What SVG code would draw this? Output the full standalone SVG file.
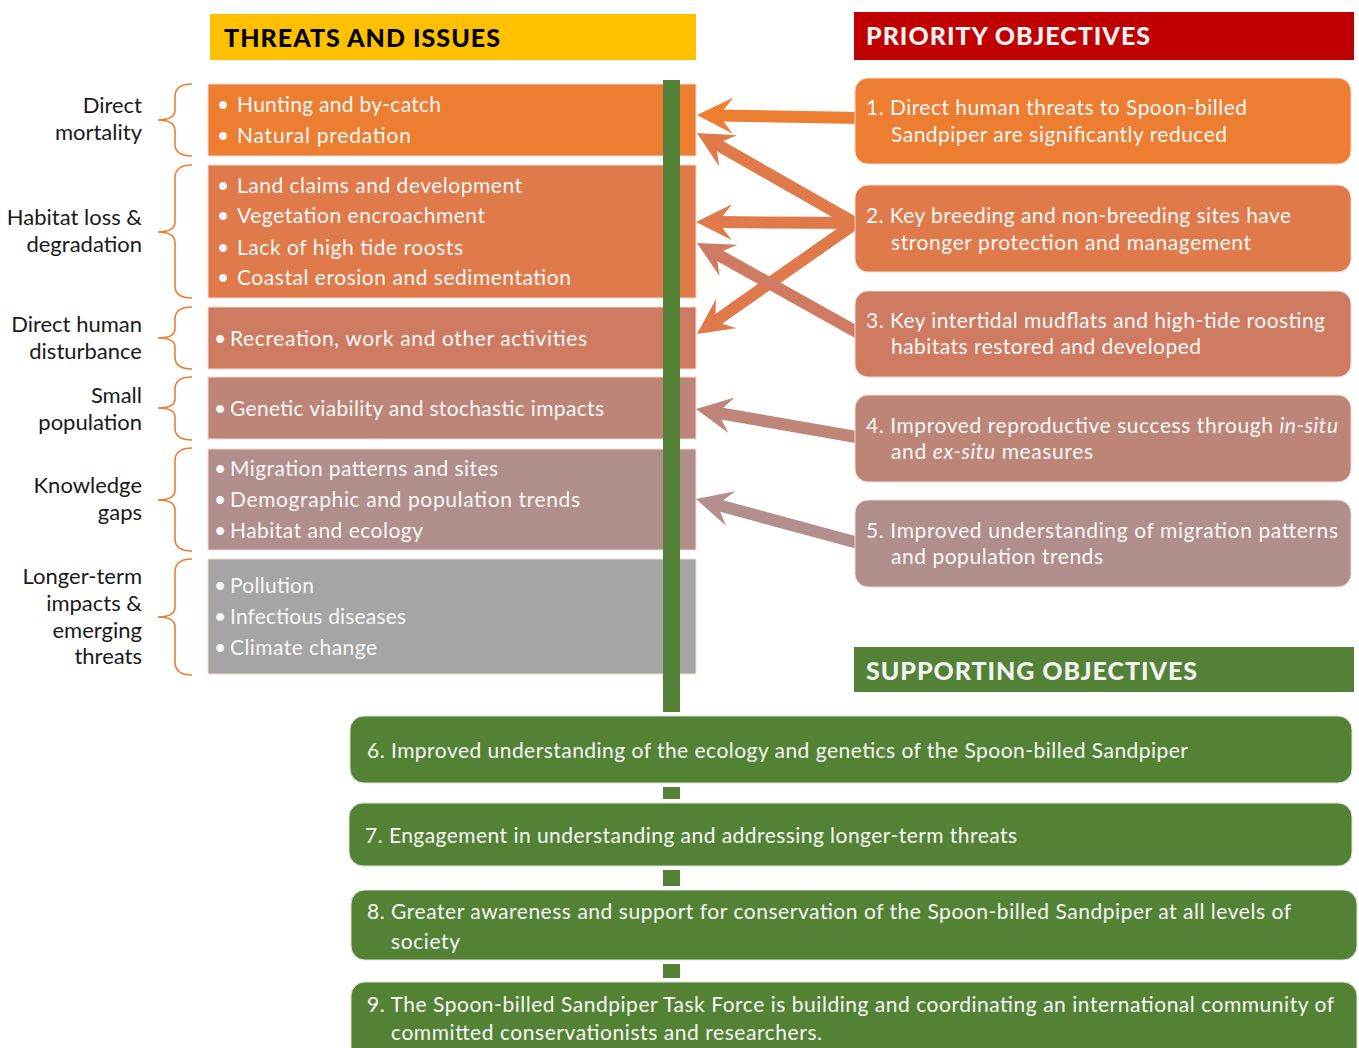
<svg xmlns="http://www.w3.org/2000/svg" width="1359" height="1048" viewBox="0 0 1359 1048">
  <style>
    text { font-family: Lato, "Open Sans", "Liberation Sans", sans-serif; }
    .hdr { font-size: 25px; font-weight: 900; }
    .lbl { font-size: 22px; fill: #1a1a1a; text-anchor: end; }
    .itm { font-size: 21px; fill: #f7f7f7; }
    .obj { font-size: 21px; fill: #f7f7f7; }
    .brace { fill: none; stroke: #ED7D31; stroke-width: 1.6; }
    .tbox { stroke: #f6d9cc; stroke-width: 1; }
    .pbox { stroke: #f6d9cc; stroke-width: 1; }
    .sbox { fill: #548235; stroke: #d9e3d0; stroke-width: 1; }
    .conn { stroke-width: 12; fill: none; }
    .spine { fill: #538135; }
  </style>
  <defs>
    <marker id="head1" viewBox="0 0 36 36" markerWidth="36" markerHeight="36" refX="14" refY="18" orient="auto" markerUnits="userSpaceOnUse">
      <path d="M36,18 L0,0 L14,18 L0,36 Z" fill="#ED7D31"/>
    </marker>
    <marker id="head2" viewBox="0 0 36 36" markerWidth="36" markerHeight="36" refX="14" refY="18" orient="auto" markerUnits="userSpaceOnUse">
      <path d="M36,18 L0,0 L14,18 L0,36 Z" fill="#E07A4B"/>
    </marker>
    <marker id="head3" viewBox="0 0 36 36" markerWidth="36" markerHeight="36" refX="14" refY="18" orient="auto" markerUnits="userSpaceOnUse">
      <path d="M36,18 L0,0 L14,18 L0,36 Z" fill="#CE7B62"/>
    </marker>
    <marker id="head4" viewBox="0 0 36 36" markerWidth="36" markerHeight="36" refX="14" refY="18" orient="auto" markerUnits="userSpaceOnUse">
      <path d="M36,18 L0,0 L14,18 L0,36 Z" fill="#BF8578"/>
    </marker>
    <marker id="head5" viewBox="0 0 36 36" markerWidth="36" markerHeight="36" refX="14" refY="18" orient="auto" markerUnits="userSpaceOnUse">
      <path d="M36,18 L0,0 L14,18 L0,36 Z" fill="#B28F8C"/>
    </marker>
  </defs>

  <rect width="1359" height="1048" fill="#ffffff"/>

  <!-- Column headers -->
  <g id="hdr-threats">
    <rect x="210" y="14" width="486" height="46" fill="#FFC000"/>
    <text class="hdr" x="224" y="47" fill="#000000" textLength="276">THREATS AND ISSUES</text>
  </g>
  <g id="hdr-priority">
    <rect x="854" y="12" width="500" height="48" fill="#C00000"/>
    <text class="hdr" x="866" y="45" fill="#f2f2f2" textLength="284">PRIORITY OBJECTIVES</text>
  </g>
  <g id="hdr-supporting">
    <rect x="854" y="647" width="500" height="45" fill="#538135"/>
    <text class="hdr" x="866" y="680" fill="#f2f2f2" textLength="331">SUPPORTING OBJECTIVES</text>
  </g>

  <!-- Threat categories with braces -->
  <g id="cat-mortality">
    <path class="brace" d="M192,84 Q175,84 175,97 L175,110 Q175,120 158,120 Q175,120 175,131 L175,144 Q175,156 192,156"/>
    <text class="lbl" x="142" y="113">Direct</text>
    <text class="lbl" x="142" y="140">mortality</text>
  </g>
  <g id="cat-habitat">
    <path class="brace" d="M192,165 Q175,165 175,178 L175,222 Q175,232 158,232 Q175,232 175,243 L175,286 Q175,298 192,298"/>
    <text class="lbl" x="142" y="225">Habitat loss &amp;</text>
    <text class="lbl" x="142" y="252">degradation</text>
  </g>
  <g id="cat-disturbance">
    <path class="brace" d="M192,307 Q175,307 175,319 L175,329 Q175,338 158,338 Q175,338 175,347 L175,357 Q175,369 192,369"/>
    <text class="lbl" x="142" y="332">Direct human</text>
    <text class="lbl" x="142" y="359">disturbance</text>
  </g>
  <g id="cat-population">
    <path class="brace" d="M192,377 Q175,377 175,389 L175,399 Q175,408 158,408 Q175,408 175,417 L175,428 Q175,440 192,440"/>
    <text class="lbl" x="142" y="403">Small</text>
    <text class="lbl" x="142" y="430">population</text>
  </g>
  <g id="cat-knowledge">
    <path class="brace" d="M192,448 Q175,448 175,461 L175,490 Q175,500 158,500 Q175,500 175,510 L175,539 Q175,551 192,551"/>
    <text class="lbl" x="142" y="493">Knowledge</text>
    <text class="lbl" x="142" y="520">gaps</text>
  </g>
  <g id="cat-longer">
    <path class="brace" d="M192,559 Q175,559 175,572 L175,607 Q175,617 158,617 Q175,617 175,627 L175,662 Q175,675 192,675"/>
    <text class="lbl" x="142" y="584">Longer-term</text>
    <text class="lbl" x="142" y="611">impacts &amp;</text>
    <text class="lbl" x="142" y="638">emerging</text>
    <text class="lbl" x="142" y="664">threats</text>
  </g>

  <!-- Threat boxes -->
  <g id="threat-mortality">
    <rect class="tbox" x="208" y="84" width="488" height="72" fill="#ED7D31"/>
    <text class="itm" x="217" y="112">•</text>
    <text class="itm" x="237" y="112" textLength="204">Hunting and by-catch</text>
    <text class="itm" x="217" y="143">•</text>
    <text class="itm" x="237" y="143" textLength="174">Natural predation</text>
  </g>
  <g id="threat-habitat">
    <rect class="tbox" x="208" y="165" width="488" height="133" fill="#E07A4B"/>
    <text class="itm" x="217" y="193">•</text>
    <text class="itm" x="237" y="193" textLength="285">Land claims and development</text>
    <text class="itm" x="217" y="223">•</text>
    <text class="itm" x="237" y="223" textLength="248">Vegetation encroachment</text>
    <text class="itm" x="217" y="255">•</text>
    <text class="itm" x="237" y="255" textLength="226">Lack of high tide roosts</text>
    <text class="itm" x="217" y="285">•</text>
    <text class="itm" x="237" y="285" textLength="334">Coastal erosion and sedimentation</text>
  </g>
  <g id="threat-disturbance">
    <rect class="tbox" x="208" y="307" width="488" height="62" fill="#CE7B62"/>
    <text class="itm" x="214" y="346">•</text>
    <text class="itm" x="230" y="346" textLength="357">Recreation, work and other activities</text>
  </g>
  <g id="threat-population">
    <rect class="tbox" x="208" y="377" width="488" height="62" fill="#BC8577"/>
    <text class="itm" x="214" y="416">•</text>
    <text class="itm" x="230" y="416" textLength="374">Genetic viability and stochastic impacts</text>
  </g>
  <g id="threat-knowledge">
    <rect class="tbox" x="208" y="449" width="488" height="101" fill="#AF8E8B"/>
    <text class="itm" x="214" y="476">•</text>
    <text class="itm" x="230" y="476" textLength="268">Migration patterns and sites</text>
    <text class="itm" x="214" y="507">•</text>
    <text class="itm" x="230" y="507" textLength="350">Demographic and population trends</text>
    <text class="itm" x="214" y="538">•</text>
    <text class="itm" x="230" y="538" textLength="193">Habitat and ecology</text>
  </g>
  <g id="threat-longer">
    <rect class="tbox" x="208" y="559" width="488" height="115" fill="#A5A5A5"/>
    <text class="itm" x="214" y="593">•</text>
    <text class="itm" x="230" y="593" textLength="84">Pollution</text>
    <text class="itm" x="214" y="624">•</text>
    <text class="itm" x="230" y="624" textLength="176">Infectious diseases</text>
    <text class="itm" x="214" y="655">•</text>
    <text class="itm" x="230" y="655" textLength="147">Climate change</text>
  </g>

  <!-- Spine linking threats to supporting objectives -->
  <g id="spine">
    <rect class="spine" x="663" y="80" width="17" height="632"/>
    <rect class="spine" x="663" y="787" width="17" height="12"/>
    <rect class="spine" x="663" y="870" width="17" height="16"/>
    <rect class="spine" x="663" y="964" width="17" height="14"/>
  </g>

  <!-- Connectors: priority objectives to the threats they address -->
  <g id="connectors">
    <line class="conn" x1="862" y1="118" x2="719" y2="115.4" stroke="#ED7D31" marker-end="url(#head1)"/>
    <line class="conn" x1="860" y1="226" x2="716" y2="143.9" stroke="#E07A4B" marker-end="url(#head2)"/>
    <line class="conn" x1="860" y1="223" x2="718" y2="222.1" stroke="#E07A4B" marker-end="url(#head2)"/>
    <line class="conn" x1="860" y1="220" x2="715" y2="321.4" stroke="#E07A4B" marker-end="url(#head2)"/>
    <line class="conn" x1="862" y1="335" x2="716.2" y2="253.7" stroke="#CE7B62" marker-end="url(#head3)"/>
    <line class="conn" x1="862" y1="438" x2="717.7" y2="412.8" stroke="#BF8578" marker-end="url(#head4)"/>
    <line class="conn" x1="862" y1="544" x2="717.2" y2="504.8" stroke="#B28F8C" marker-end="url(#head5)"/>
  </g>

  <!-- Priority objectives -->
  <g id="obj-1">
    <rect class="pbox" x="855" y="78" width="496" height="86" rx="13" fill="#ED7D31"/>
    <text class="obj" x="866" y="115" textLength="381">1. Direct human threats to Spoon-billed</text>
    <text class="obj" x="891" y="142" textLength="336">Sandpiper are significantly reduced</text>
  </g>
  <g id="obj-2">
    <rect class="pbox" x="855" y="185" width="496" height="87" rx="13" fill="#E07A4B"/>
    <text class="obj" x="866" y="223" textLength="425">2. Key breeding and non-breeding sites have</text>
    <text class="obj" x="891" y="250" textLength="360">stronger protection and management</text>
  </g>
  <g id="obj-3">
    <rect class="pbox" x="855" y="291" width="496" height="86" rx="13" fill="#CE7B62"/>
    <text class="obj" x="866" y="328" textLength="459">3. Key intertidal mudflats and high-tide roosting</text>
    <text class="obj" x="891" y="354" textLength="310">habitats restored and developed</text>
  </g>
  <g id="obj-4">
    <rect class="pbox" x="855" y="395" width="496" height="87" rx="13" fill="#BC8577"/>
    <text class="obj" x="866" y="433" textLength="472">4. Improved reproductive success through <tspan font-style="italic">in-situ</tspan></text>
    <text class="obj" x="891" y="459" textLength="202">and <tspan font-style="italic">ex-situ</tspan> measures</text>
  </g>
  <g id="obj-5">
    <rect class="pbox" x="855" y="500" width="496" height="87" rx="13" fill="#AF8E8B"/>
    <text class="obj" x="866" y="538" textLength="472">5. Improved understanding of migration patterns</text>
    <text class="obj" x="891" y="564" textLength="212">and population trends</text>
  </g>

  <!-- Supporting objectives -->
  <g id="obj-6">
    <rect class="sbox" x="350" y="716" width="1002" height="67" rx="14"/>
    <text class="obj" x="367" y="758" textLength="821">6. Improved understanding of the ecology and genetics of the Spoon-billed Sandpiper</text>
  </g>
  <g id="obj-7">
    <rect class="sbox" x="349" y="803" width="1003" height="63" rx="14"/>
    <text class="obj" x="365" y="843" textLength="652">7. Engagement in understanding and addressing longer-term threats</text>
  </g>
  <g id="obj-8">
    <rect class="sbox" x="351" y="890" width="1006" height="70" rx="14"/>
    <text class="obj" x="367" y="919" textLength="924">8. Greater awareness and support for conservation of the Spoon-billed Sandpiper at all levels of</text>
    <text class="obj" x="391" y="949" textLength="69">society</text>
  </g>
  <g id="obj-9">
    <rect class="sbox" x="351" y="982" width="1006" height="80" rx="14"/>
    <text class="obj" x="367" y="1012" textLength="967">9. The Spoon-billed Sandpiper Task Force is building and coordinating an international community of</text>
    <text class="obj" x="391" y="1040" textLength="431">committed conservationists and researchers.</text>
  </g>
</svg>
